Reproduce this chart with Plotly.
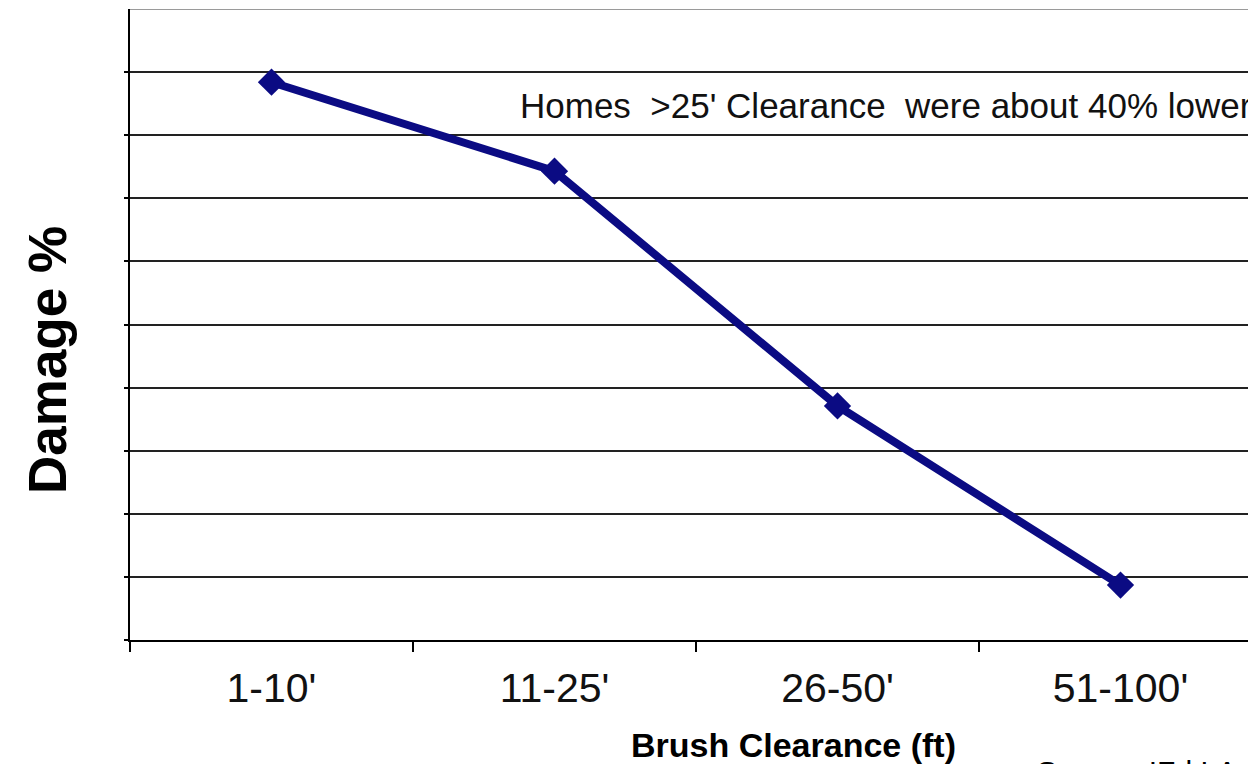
import plotly.graph_objects as go

# Brush clearance bands and the share of homes damaged in each
categories = ["1-10'", "11-25'", "26-50'", "51-100'"]
damage_pct = [88.4, 74.3, 37.1, 8.7]
grid_values = [0, 10, 20, 30, 40, 50, 60, 70, 80, 90]

W, H = 1248, 764
L, R, T, B = 130, 0, 9, 124
plot_w = W - L - R
plot_h = H - T - B
band_px = 283  # width of one category band


def px_x(x):
    return (x - L) / plot_w


def px_y(y):
    return (H - B - y) / plot_h


FONT = "Liberation Sans, Arial, sans-serif"
NAVY = "#0b0b83"

fig = go.Figure()
fig.add_trace(
    go.Scatter(
        x=categories,
        y=damage_pct,
        mode="lines+markers",
        line=dict(color=NAVY, width=8),
        marker=dict(symbol="diamond", size=21, color=NAVY),
        showlegend=False,
        hoverinfo="skip",
    )
)

fig.update_layout(
    width=W,
    height=H,
    margin=dict(l=L, r=R, t=T, b=B, pad=0),
    paper_bgcolor="white",
    plot_bgcolor="white",
    font=dict(family=FONT, color="black"),
    xaxis=dict(
        type="category",
        range=[-0.5, -0.5 + plot_w / band_px],
        showgrid=False,
        showline=True,
        linecolor="black",
        linewidth=2,
        ticks="outside",
        tickson="boundaries",
        ticklen=10,
        tickwidth=2,
        tickcolor="black",
        tickfont=dict(size=41, family=FONT, color="#111"),
        ticklabelstandoff=11,
        zeroline=False,
    ),
    yaxis=dict(
        range=[0, 100],
        tickvals=grid_values,
        showticklabels=False,
        showgrid=True,
        gridcolor="#222",
        gridwidth=2,
        showline=True,
        linecolor="black",
        linewidth=2,
        ticks="outside",
        ticklen=4,
        tickwidth=2,
        tickcolor="black",
        zeroline=False,
    ),
    shapes=[
        dict(
            type="line", xref="paper", yref="y",
            x0=0, x1=1, y0=100, y1=100,
            line=dict(color="#9a9a9a", width=2),
        )
    ],
    annotations=[
        dict(
            text="Homes\u00a0 >25' Clearance\u00a0 were about 40% lower",
            xref="paper", yref="paper",
            x=px_x(518), y=px_y(105),
            xanchor="left", yanchor="middle",
            showarrow=False,
            font=dict(size=35, family=FONT, color="#111"),
        ),
        dict(
            text="<b>Damage %</b>",
            xref="paper", yref="paper",
            x=px_x(47), y=px_y(360),
            xanchor="center", yanchor="middle",
            textangle=-90,
            showarrow=False,
            font=dict(size=53, family=FONT, color="black"),
        ),
        dict(
            text="<b>Brush Clearance (ft)</b>",
            xref="paper", yref="paper",
            x=px_x(793), y=px_y(745),
            xanchor="center", yanchor="middle",
            showarrow=False,
            font=dict(size=34, family=FONT, color="black"),
        ),
        dict(
            text="Source: IFd LA County",
            xref="paper", yref="paper",
            x=px_x(1035), y=px_y(771),
            xanchor="left", yanchor="middle",
            showarrow=False,
            font=dict(size=30, family=FONT, color="black"),
        ),
    ],
)

fig.write_html("out.html")
